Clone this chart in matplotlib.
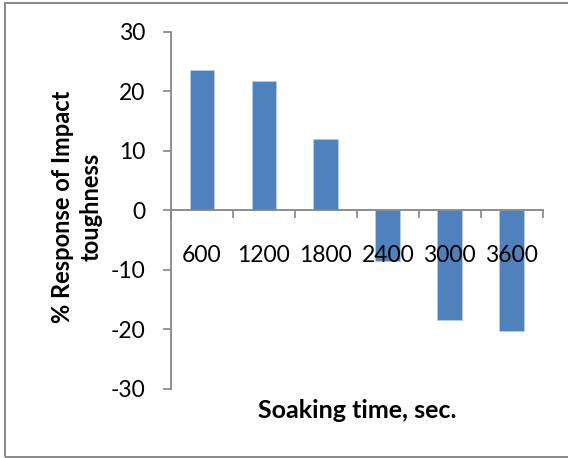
import matplotlib
matplotlib.use("Agg")
import matplotlib.pyplot as plt
from matplotlib.patches import Rectangle
import numpy as np

# soaking time categories and impact toughness response (%)
soak_times = ['600', '1200', '1800', '2400', '3000', '3600']
response = [23.6, 21.8, 11.9, -8.5, -18.4, -20.2]

plt.rcParams['font.family'] = ['Lato', 'DejaVu Sans']
plt.rcParams['axes.unicode_minus'] = False
axis_grey = '#868686'

fig = plt.figure(figsize=(5.68, 4.58), dpi=100)
ax = fig.add_axes([0.301, 0.151, 0.6545, 0.7798])
ax.set_axisbelow(False)

x = np.arange(len(soak_times))
ax.bar(x, response, width=0.4, color='#4F81BD', edgecolor='#B9CDE5', linewidth=0.6, zorder=1)

ax.set_xlim(-0.5, len(soak_times) - 0.5)
ax.set_ylim(-30, 30)
ax.set_yticks(np.arange(-30, 31, 10))
ax.tick_params(axis='y', direction='out', length=6, width=1.2, color=axis_grey,
               labelsize=16.5, pad=12.5)

# category boundary ticks on the zero line, labels centred under each bar
ax.set_xticks(np.arange(len(soak_times) + 1) - 0.5)
ax.set_xticklabels([])
ax.set_xticks(x, minor=True)
ax.set_xticklabels(soak_times, minor=True)
ax.tick_params(axis='x', which='major', direction='out', length=6, width=1.2, color=axis_grey)
ax.tick_params(axis='x', which='minor', length=0, labelsize=16.5, pad=25)

ax.spines['bottom'].set_position(('data', 0))
for s in ['top', 'right']:
    ax.spines[s].set_visible(False)
for s in ['left', 'bottom']:
    ax.spines[s].set_color(axis_grey)
    ax.spines[s].set_linewidth(1.3)
    ax.spines[s].set_zorder(3)

fig.text(0.629, 1 - 411 / 458, 'Soaking time, sec.', ha='center', va='center',
         fontsize=18, fontweight='bold')
fig.text(77 / 568, 1 - 207 / 458, '% Response of Impact\ntoughness', ha='center', va='center',
         rotation=90, fontsize=17, fontweight='bold', linespacing=1.3)

# chart area border
fig.patches.append(Rectangle((5 / 568, 1 - 456.7 / 458), 1.0, 454 / 458,
                             transform=fig.transFigure, fill=False,
                             edgecolor='#888888', linewidth=1.4))

fig.savefig('out.png', dpi=100)
